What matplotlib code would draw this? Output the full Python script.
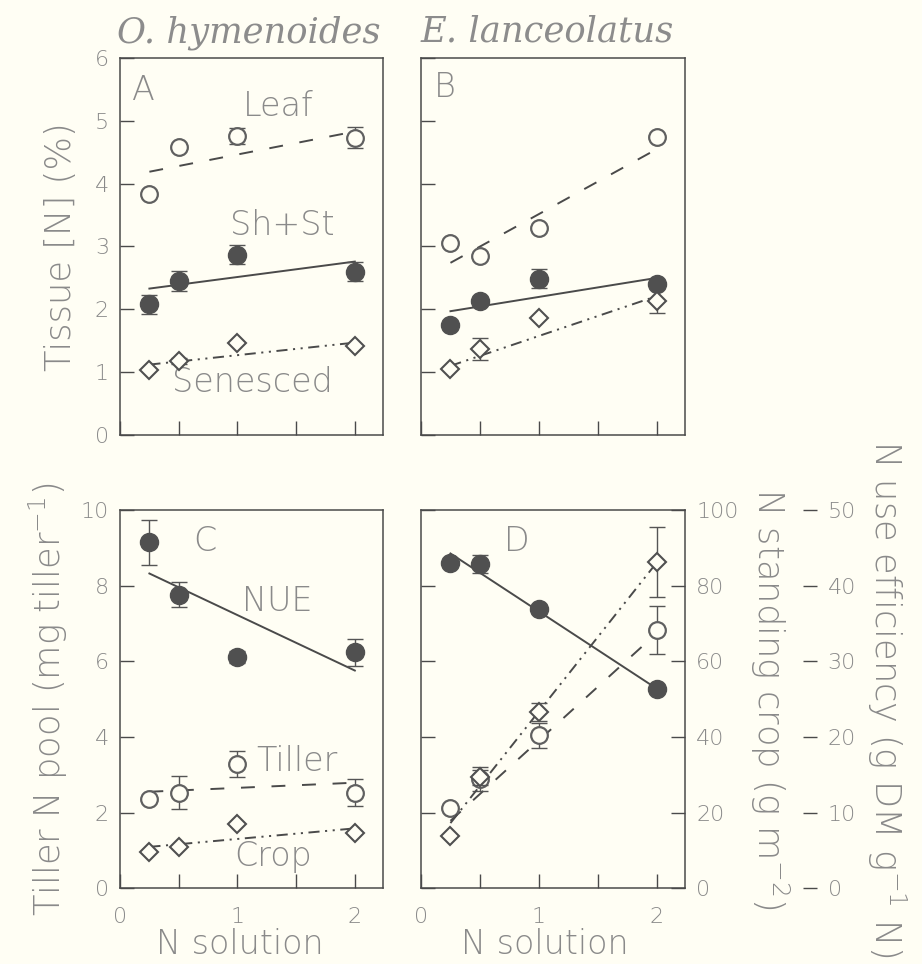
import matplotlib
matplotlib.use("Agg")
import matplotlib.pyplot as plt
import numpy as np

# ---------------- data ----------------
x_levels = [0.25, 0.5, 1.0, 2.0]
x_fit = [0.25, 2.0]

# Panel A: O. hymenoides tissue [N] (%)
a_leaf = [3.83, 4.58, 4.76, 4.73]
a_leaf_err = [0.0, 0.0, 0.13, 0.17]
a_leaf_fit = [4.19, 4.83]
a_shst = [2.08, 2.45, 2.87, 2.60]
a_shst_err = [0.15, 0.16, 0.15, 0.15]
a_shst_fit = [2.33, 2.76]
a_sen = [1.04, 1.18, 1.46, 1.42]
a_sen_err = [0.0, 0.05, 0.0, 0.0]
a_sen_fit = [1.12, 1.47]

# Panel B: E. lanceolatus tissue [N] (%)
b_leaf = [3.06, 2.85, 3.30, 4.75]
b_leaf_err = [0.0, 0.0, 0.0, 0.0]
b_leaf_fit = [2.74, 4.55]
b_shst = [1.75, 2.13, 2.49, 2.40]
b_shst_err = [0.0, 0.0, 0.15, 0.0]
b_shst_fit = [1.97, 2.50]
b_sen = [1.05, 1.37, 1.86, 2.14]
b_sen_err = [0.0, 0.17, 0.0, 0.20]
b_sen_fit = [1.10, 2.21]

# Panel C: O. hymenoides
c_nue = [45.8, 38.85, 30.6, 31.2]          # g DM g-1 N
c_nue_err = [3.0, 1.7, 0.75, 1.75]
c_nue_fit = [41.65, 28.8]
c_tiller = [2.35, 2.53, 3.29, 2.53]        # mg tiller-1
c_tiller_err = [0.0, 0.44, 0.34, 0.37]
c_tiller_fit = [2.55, 2.79]
c_crop = [9.6, 10.9, 16.9, 14.5]           # g m-2
c_crop_err = [0.0, 0.0, 0.0, 0.0]
c_crop_fit = [10.9, 15.8]

# Panel D: E. lanceolatus
d_nue = [43.0, 42.95, 37.0, 26.3]
d_nue_err = [0.0, 1.2, 0.0, 0.0]
d_nue_fit = [44.3, 26.4]
d_tiller = [2.11, 2.88, 4.05, 6.83]
d_tiller_err = [0.0, 0.32, 0.33, 0.63]
d_tiller_fit = [1.78, 6.75]
d_crop = [13.8, 29.3, 46.6, 86.3]
d_crop_err = [0.0, 2.0, 2.4, 9.3]
d_crop_fit = [17.2, 86.2]

titles = ["O. hymenoides", "E. lanceolatus"]
panel_letters = ["A", "B", "C", "D"]

# ---------------- style ----------------
BG = "#fffef4"
INK = "#4a4a4a"
TXT = "#8a8a8a"
TITLE_C = "#8c8c8c"
FONT = ["DejaVu Sans"]

plt.rcParams["lines.scale_dashes"] = False
plt.rcParams["font.family"] = FONT
plt.rcParams["mathtext.fontset"] = "custom"
plt.rcParams["mathtext.rm"] = "DejaVu Sans:light"
plt.rcParams["mathtext.it"] = "DejaVu Sans:light"
plt.rcParams["mathtext.default"] = "regular"

DASH = (0, (10, 12))
DDOT = (0, (8, 4, 1.5, 4, 1.5, 4))
SOLID = "-"

W, H = 922, 964
fig = plt.figure(figsize=(W / 100, H / 100), dpi=100, facecolor=BG)

L1, R1 = 0.1302, 0.4154
L2, R2 = 0.4566, 0.7430
TOP_B, TOP_T = 0.5488, 0.9398
BOT_B, BOT_T = 0.0788, 0.4705

axA = fig.add_axes([L1, TOP_B, R1 - L1, TOP_T - TOP_B])
axB = fig.add_axes([L2, TOP_B, R2 - L2, TOP_T - TOP_B])
axC = fig.add_axes([L1, BOT_B, R1 - L1, BOT_T - BOT_B])
axD = fig.add_axes([L2, BOT_B, R2 - L2, BOT_T - BOT_B])

WEIGHT = 200
TICK_FS = 16
LAB_FS = 25.5
ANN_FS = 24


def base_axes(ax, ylim, yticks, xlabels=True, ylabels=True, right_ticks=False):
    ax.set_facecolor(BG)
    ax.set_xlim(0, 2.24)
    ax.set_ylim(*ylim)
    ax.set_xticks([0, 0.5, 1, 1.5, 2])
    if xlabels:
        ax.set_xticklabels(["0", "", "1", "", "2"])
    else:
        ax.set_xticklabels([])
    ax.set_yticks(yticks)
    if ylabels:
        ax.set_yticklabels([f"{t:g}" for t in yticks])
    else:
        ax.set_yticklabels([])
    ax.tick_params(axis="both", direction="in", length=10, width=1.0, color=INK,
                   labelcolor=TXT, right=right_ticks, top=False)
    ax.tick_params(axis="y", labelsize=TICK_FS, pad=8)
    ax.tick_params(axis="x", labelsize=TICK_FS, pad=14)
    for lab in ax.get_xticklabels() + ax.get_yticklabels():
        lab.set_fontweight(WEIGHT)
    for sp in ax.spines.values():
        sp.set_color(INK)
        sp.set_linewidth(1.1)


def series(ax, y, err, fit, kind, ls):
    if kind == "open_circle":
        mk = dict(marker="o", ms=12, mfc=BG, mec="#606060", mew=1.6)
    elif kind == "filled_circle":
        mk = dict(marker="o", ms=13, mfc="#505050", mec="#505050", mew=1.0)
    else:
        mk = dict(marker="D", ms=9, mfc=BG, mec="#505050", mew=1.5)
    ax.plot(x_fit, fit, color=INK, lw=1.4, ls=ls, zorder=2)
    e = np.array(err, dtype=float)
    ax.errorbar(x_levels, y, yerr=np.where(e > 0, e, np.nan), fmt="none",
                ecolor="#555555", elinewidth=1.0, capsize=6, capthick=1.0, zorder=3)
    ax.plot(x_levels, y, ls="none", zorder=4, **mk)


def ann(ax, x, y, s):
    ax.text(x, y, s, fontsize=ANN_FS, color=TXT, fontweight=WEIGHT, ha="center", va="center")


# ---- Panel A
base_axes(axA, (0, 6), range(0, 7), xlabels=False)
series(axA, a_leaf, a_leaf_err, a_leaf_fit, "open_circle", DASH)
series(axA, a_shst, a_shst_err, a_shst_fit, "filled_circle", SOLID)
series(axA, a_sen, a_sen_err, a_sen_fit, "diamond", DDOT)
axA.set_ylabel("Tissue [N] (%)", fontsize=LAB_FS, color=TXT, fontweight=WEIGHT, labelpad=12)
ann(axA, 0.2, 5.49, panel_letters[0])
ann(axA, 1.35, 5.23, "Leaf")
ann(axA, 1.38, 3.33, "Sh+St")
ann(axA, 1.13, 0.83, "Senesced")

# ---- Panel B
base_axes(axB, (0, 6), range(0, 7), xlabels=False, ylabels=False)
series(axB, b_leaf, b_leaf_err, b_leaf_fit, "open_circle", DASH)
series(axB, b_shst, b_shst_err, b_shst_fit, "filled_circle", SOLID)
series(axB, b_sen, b_sen_err, b_sen_fit, "diamond", DDOT)
ann(axB, 0.2, 5.53, panel_letters[1])

# column titles
for xc, t in zip([249 / W, 547 / W], titles):
    fig.text(xc, 1 - 42 / H, t, ha="center", va="baseline",
             fontsize=25.5, color=TITLE_C, family=["DejaVu Serif"], style="italic")

# ---- Panel C
base_axes(axC, (0, 10), range(0, 11, 2), right_ticks=True)
cC_crop = axC.twinx()
cC_nue = axC.twinx()
for tw, lim in ((cC_crop, (0, 100)), (cC_nue, (0, 50))):
    tw.set_ylim(*lim)
    tw.set_frame_on(False)
    tw.set_yticks([])
    tw.set_xlim(0, 2.24)
series(axC, c_tiller, c_tiller_err, c_tiller_fit, "open_circle", DASH)
series(cC_crop, c_crop, c_crop_err, c_crop_fit, "diamond", DDOT)
series(cC_nue, c_nue, c_nue_err, c_nue_fit, "filled_circle", SOLID)
axC.set_ylabel("Tiller N pool (mg tiller$^{-1}$)", fontsize=LAB_FS, color=TXT,
               fontweight=WEIGHT, labelpad=8)
ann(axC, 0.72, 9.19, panel_letters[2])
ann(axC, 1.34, 7.6, "NUE")
ann(axC, 1.51, 3.35, "Tiller")
ann(axC, 1.30, 0.83, "Crop")

# ---- Panel D
base_axes(axD, (0, 10), range(0, 11, 2), ylabels=False)
dD_crop = axD.twinx()
dD_nue = axD.twinx()
dD_crop.set_ylim(0, 100)
dD_crop.set_yticks(range(0, 101, 20))
dD_crop.set_frame_on(False)
dD_crop.spines["right"].set_visible(True)
dD_nue.set_ylim(0, 50)
dD_nue.set_yticks(range(0, 51, 10))
dD_nue.set_frame_on(False)
dD_nue.spines["right"].set_visible(True)
dD_nue.spines["right"].set_position(("axes", 1.498))
for tw in (dD_crop, dD_nue):
    tw.set_xlim(0, 2.24)
    tw.spines["right"].set_color(INK)
    tw.spines["right"].set_linewidth(1.1)
    tw.tick_params(axis="y", direction="in", length=10, width=1.0, color=INK,
                   labelcolor=TXT, labelsize=TICK_FS, pad=8)
    for lab in tw.get_yticklabels():
        lab.set_fontweight(WEIGHT)
series(axD, d_tiller, d_tiller_err, d_tiller_fit, "open_circle", DASH)
series(dD_crop, d_crop, d_crop_err, d_crop_fit, "diamond", DDOT)
series(dD_nue, d_nue, d_nue_err, d_nue_fit, "filled_circle", SOLID)
ann(axD, 0.81, 9.17, panel_letters[3])

# right-hand axis titles (read top to bottom)
fig.text(770 / W, 1 - 699 / H, "N standing crop (g m$^{-2}$)", rotation=-90,
         ha="center", va="center", fontsize=LAB_FS, color=TXT, fontweight=WEIGHT)
fig.text(887 / W, 1 - 699 / H, "N use efficiency (g DM g$^{-1}$ N)", rotation=-90,
         ha="center", va="center", fontsize=LAB_FS, color=TXT, fontweight=WEIGHT)

# x-axis titles
for xc in (240 / W, 545 / W):
    fig.text(xc, 3 / H, "N solution", ha="center", va="bottom", fontsize=24,
             color=TXT, fontweight=WEIGHT)

fig.savefig("out.png", dpi=100, facecolor=BG)
